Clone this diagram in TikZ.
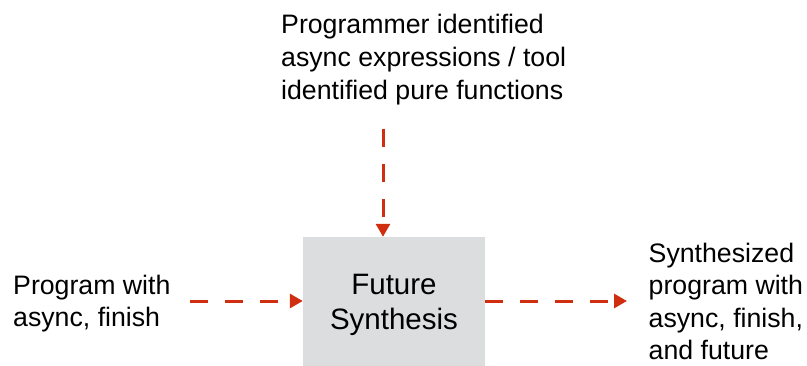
\documentclass[tikz,border=0pt]{standalone}
\usepackage{fontspec}
\setmainfont{Liberation Sans}
\usetikzlibrary{arrows.meta}
\definecolor{flowred}{RGB}{208,46,16}
\definecolor{boxgray}{RGB}{220,221,223}
\tikzset{
  flow/.style={draw=flowred, line width=3pt, dash pattern=on 18pt off 17pt,
    -{Triangle[length=13pt,width=14pt]}},
  stage/.style={fill=boxgray, draw=none, minimum width=182pt, minimum height=136pt,
    inner sep=0pt, align=center, font=\fontsize{29.5}{35}\selectfont},
  caption/.style={inner sep=0pt, align=left, anchor=north west},
}
\begin{document}
\begin{tikzpicture}[x=1pt,y=1pt]
  \useasboundingbox (0,0) rectangle (807,365);
  \clip (0,0) rectangle (807,365);

  % central processing stage
  \node[stage] (fs) at (394,60) {Future\\Synthesis};

  % inputs and output
  \node[caption, font=\fontsize{26.7}{33.4}\selectfont] (hints) at (281,351.5)
    {Programmer identified\\async expressions / tool\\identified pure functions};
  \node[caption, font=\fontsize{26.7}{32.2}\selectfont] (src) at (13,90)
    {Program with\\async, finish};
  \node[caption, font=\fontsize{26.7}{32.5}\selectfont] (dst) at (648.5,122.5)
    {Synthesized\\program with\\async, finish,\\and future};

  % connector ends
  \coordinate (hintsEnd) at (383,236);
  \coordinate (srcEnd) at (190,64);
  \coordinate (dstEnd) at (627,64);

  \draw[flow] (hintsEnd) -- (hintsEnd |- fs.north);
  \draw[flow] (srcEnd) -- (fs.west |- srcEnd);
  \draw[flow] (fs.east |- srcEnd) -- (dstEnd);
\end{tikzpicture}
\end{document}
